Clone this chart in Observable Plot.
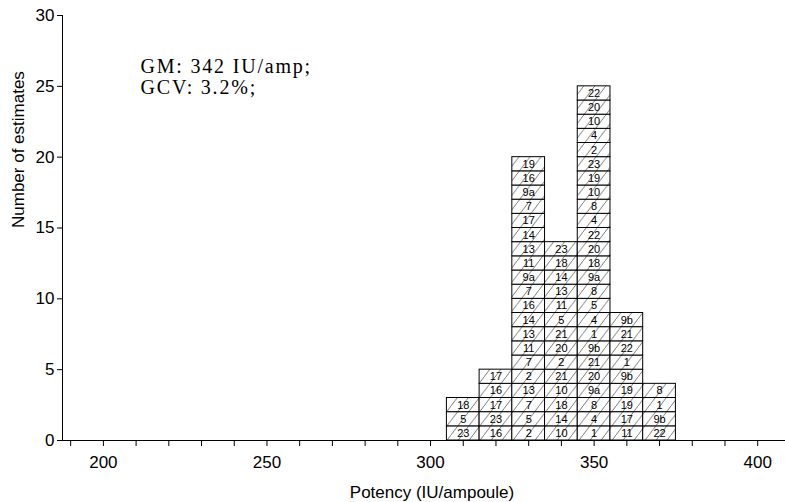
<!DOCTYPE html>
<html>
<head>
<meta charset="utf-8">
<script src="https://cdn.jsdelivr.net/npm/d3@7"></script>
<script src="https://cdn.jsdelivr.net/npm/@observablehq/plot@0.6"></script>
<style>
  html, body { margin: 0; padding: 0; background: #fff; }
  #chart { width: 785px; height: 502px; }
</style>
</head>
<body>
<div id="chart"></div>
<script>
// Histogram bins (lower edge, IU/ampoule) and bin width
const binStarts = [305, 315, 325, 335, 345, 355, 365];
const binWidth = 10;
// Laboratory codes stacked in each bin, bottom to top
const binLabs = [
  ["23", "5", "18"],
  ["16", "23", "17", "16", "17"],
  ["2", "5", "7", "13", "2", "7", "11", "13", "14", "16", "7", "9a", "11", "13", "14", "17", "7", "9a", "16", "19"],
  ["10", "14", "18", "10", "21", "2", "20", "21", "5", "11", "13", "14", "18", "23"],
  ["1", "4", "8", "9a", "20", "21", "9b", "1", "4", "5", "8", "9a", "18", "20", "22", "4", "8", "10", "19", "23", "2", "4", "10", "20", "22"],
  ["11", "17", "19", "19", "9b", "1", "22", "21", "9b"],
  ["22", "9b", "1", "8"]
];
// Axis settings
const xDomain = [187.5, 408.5];
const xTicks = d3.range(190, 401, 10);
const xLabelEvery = 50;
const yDomain = [0, 30];
const yTicks = [0, 5, 10, 15, 20, 25, 30];
const xTitle = "Potency (IU/ampoule)";
const yTitle = "Number of estimates";
const notes = ["GM: 342 IU/amp;", "GCV: 3.2%;"];

const cells = binStarts.flatMap((s, b) =>
  binLabs[b].map((lab, i) => ({x1: s, x2: s + binWidth, y1: i, y2: i + 1, label: lab}))
);

const sans = "'Liberation Sans', Arial, Helvetica, sans-serif";
const serif = "'Liberation Serif', 'Times New Roman', serif";

const chart = Plot.plot({
  width: 785,
  height: 502,
  marginLeft: 62,
  marginRight: 0,
  marginTop: 15,
  marginBottom: 62,
  style: {fontFamily: sans, fontSize: "17px", background: "#fff", color: "#000"},
  x: {domain: xDomain},
  y: {domain: yDomain},
  marks: [
    Plot.rect(cells, {x1: "x1", x2: "x2", y1: "y1", y2: "y2", fill: "url(#hatch)", stroke: "#000", strokeWidth: 1}),
    Plot.text(cells, {x: d => (d.x1 + d.x2) / 2, y: d => (d.y1 + d.y2) / 2, text: "label",
      fontFamily: sans, fontSize: 11, fill: "#000"}),
    Plot.ruleY([yDomain[0]], {stroke: "#000", strokeWidth: 1}),
    Plot.ruleX([xDomain[0]], {stroke: "#000", strokeWidth: 1}),
    Plot.axisX({ticks: xTicks, tickFormat: d => d % xLabelEvery === 0 ? String(d) : "", tickSize: 6, tickPadding: 9, label: null}),
    Plot.axisY({ticks: yTicks, tickSize: 5, tickPadding: 3, label: null}),
    Plot.text([yTitle], {frameAnchor: "left", text: d => d, rotate: -90, dx: -44, fontSize: 17, fill: "#000"}),
    Plot.text([xTitle], {frameAnchor: "bottom", text: d => d, lineAnchor: "bottom", dx: 8, dy: 57, fontSize: 17, fill: "#000"}),
    ...notes.map((note, i) => Plot.text([note], {frameAnchor: "top-left", text: d => d, textAnchor: "start", lineAnchor: "bottom",
      dx: 78, dy: 57 + i * 21.5, fontFamily: serif, fontSize: 20, fill: "#000"}))
  ]
});

// hatch pattern definition
const svg = d3.select(chart);
const defs = svg.insert("defs", ":first-child");
const pat = defs.append("pattern")
  .attr("id", "hatch")
  .attr("patternUnits", "userSpaceOnUse")
  .attr("width", 11)
  .attr("height", 14.5);
pat.append("rect").attr("width", 11).attr("height", 14.5).attr("fill", "#fff");
pat.append("path")
  .attr("d", "M-1.1,15.95 L12.1,-1.45")
  .attr("stroke", "#444")
  .attr("stroke-width", 0.7)
  .attr("fill", "none");

// wider letter spacing for the annotation lines
svg.selectAll("text").filter(function() { return notes.includes(this.textContent); })
  .style("letter-spacing", "1.8px");

document.getElementById("chart").appendChild(chart);
</script>
</body>
</html>
